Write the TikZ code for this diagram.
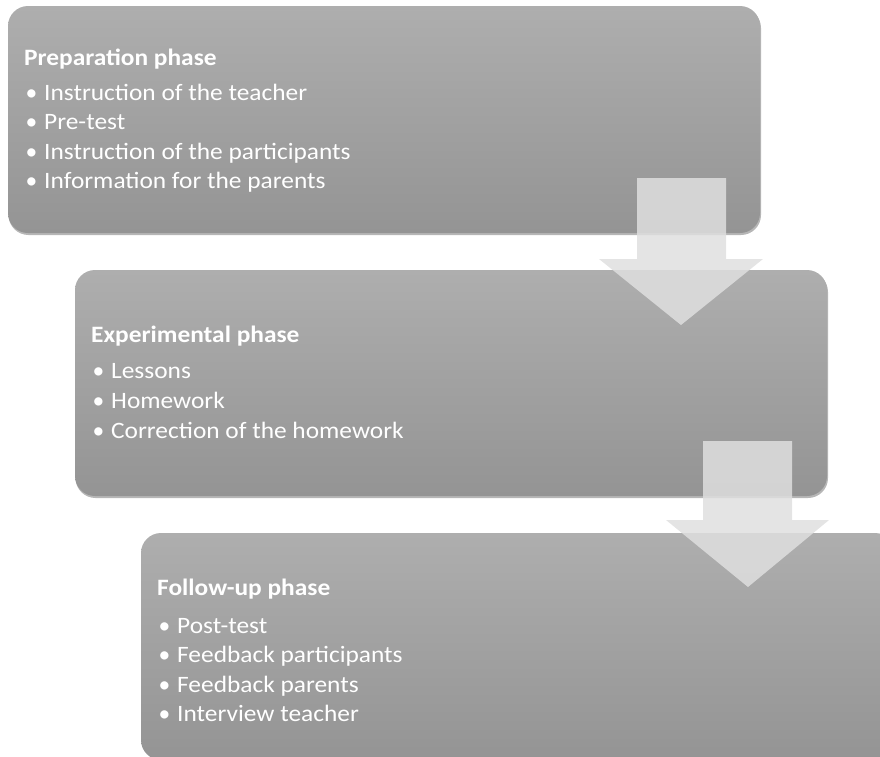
\documentclass[tikz,border=0pt]{standalone}
\usepackage{fontspec}
\setmainfont{Carlito}
\begin{document}
\begin{tikzpicture}[x=1pt,y=-1pt,
  phasebox/.style={rounded corners=20pt, top color=boxtop, bottom color=boxbot, draw=none},
  boxshadow/.style={fill=shadowc, opacity=0.5, rounded corners=20pt},
  downarrow/.style={fill=arrowfill, fill opacity=0.85, draw=none},
  ttl/.style={anchor=base west, inner sep=0pt, text=white, font=\fontsize{23.5}{28}\selectfont\bfseries},
  itm/.style={anchor=base west, inner sep=0pt, text=white, font=\fontsize{23.5}{28}\selectfont},
]
\definecolor{boxtop}{RGB}{174,174,174}
\definecolor{boxbot}{RGB}{148,148,148}
\definecolor{arrowfill}{RGB}{223,223,223}
\definecolor{shadowc}{RGB}{110,110,110}
\useasboundingbox (0,0) rectangle (880,756);
\clip (0,0) rectangle (880,756);
\newcommand{\bul}{\makebox[20pt][l]{\hspace{1.5pt}•}}
\newcommand{\wid}[1]{\scalebox{1.08}[1]{#1}}
% shadows
\path[boxshadow] (8.5,8) rectangle (761,235);
\path[boxshadow] (75.5,272) rectangle (828,498);
% boxes
\path[phasebox] (8,6) rectangle (760,233);
\path[phasebox] (75,270) rectangle (827,496);
\path[phasebox] (141,533) rectangle (895,760);
% texts box 1
\node[ttl] (t1) at (24,65) {\wid{Preparation phase}};
\node[itm] (a1) at (24,100) {\bul\wid{Instruction of the teacher}};
\node[itm] (a2) at (24,129.5) {\bul\wid{Pre-test}};
\node[itm] (a3) at (24,159) {\bul\wid{Instruction of the participants}};
\node[itm] (a4) at (24,188.5) {\bul\wid{Information for the parents}};
% texts box 2
\node[ttl] (t2) at (91,342) {\wid{Experimental phase}};
\node[itm] (b1) at (91,378) {\bul\wid{Lessons}};
\node[itm] (b2) at (91,408) {\bul\wid{Homework}};
\node[itm] (b3) at (91,438) {\bul\wid{Correction of the homework}};
% texts box 3
\node[ttl] (t3) at (157,595) {\wid{Follow-up phase}};
\node[itm] (c1) at (157,633) {\bul\wid{Post-test}};
\node[itm] (c2) at (157,662.5) {\bul\wid{Feedback participants}};
\node[itm] (c3) at (157,692) {\bul\wid{Feedback parents}};
\node[itm] (c4) at (157,721.5) {\bul\wid{Interview teacher}};
% arrows
\path[downarrow] (637,178) -- (726,178) -- (726,259) -- (763,259) -- (681,325) -- (599,259) -- (637,259) -- cycle;
\path[downarrow] (703,441) -- (792,441) -- (792,520) -- (829,520) -- (748,587) -- (666,520) -- (703,520) -- cycle;
\end{tikzpicture}
\end{document}
